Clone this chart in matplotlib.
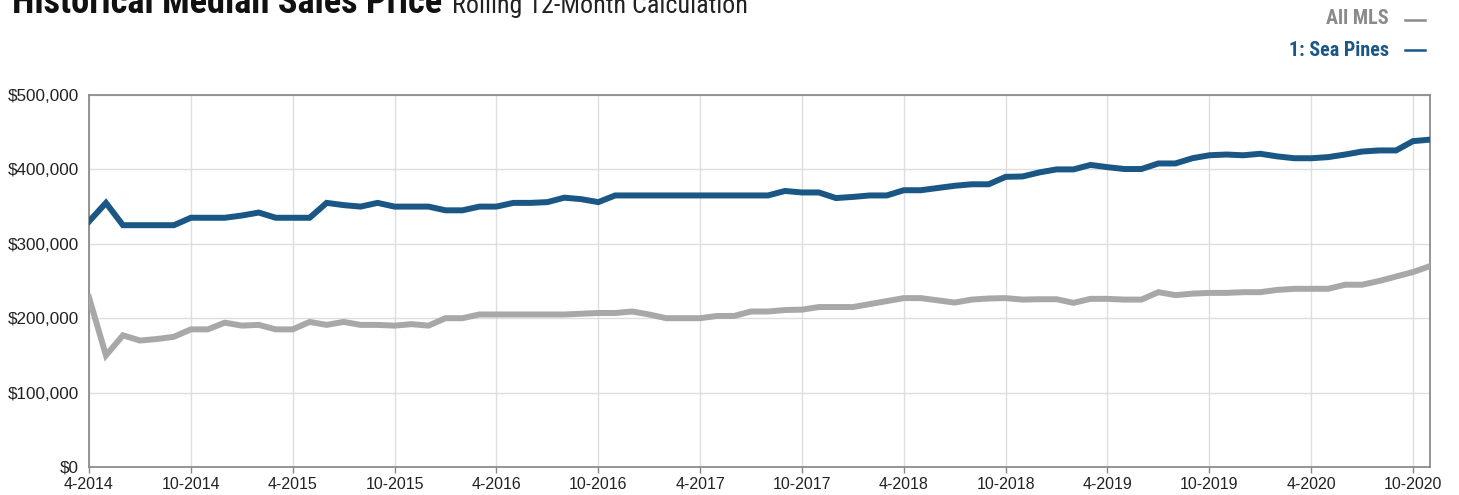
import matplotlib
matplotlib.use("Agg")
import matplotlib.pyplot as plt
from matplotlib.lines import Line2D
from matplotlib import font_manager

# ---- data ----
months = list(range(80))  # 4-2014 .. 11-2020
sea_pines = [330, 355, 325, 325, 325, 325, 335, 335, 335, 338,
             342, 335, 335, 335, 355, 352, 350, 355, 350, 350,
             350, 345, 345, 350, 350, 355, 355, 356, 362, 360,
             356, 365, 365, 365, 365, 365, 365, 365, 365, 365,
             365, 371, 369, 369, 361.5, 363, 365, 365, 372, 372,
             375, 378, 380, 380, 390, 390.5, 396, 400, 400, 406,
             403, 400.5, 400.5, 408, 408, 415, 419, 420, 419, 421,
             417.5, 415, 415, 416.5, 420, 424, 425.5, 425.5, 438, 440]
all_mls = [228, 150, 177, 170, 172, 175, 185, 185, 194, 190,
           191, 185, 185, 195, 191, 195, 191, 191, 190, 192,
           190, 200, 200, 205, 205, 205, 205, 205, 205, 206,
           207, 207, 209, 205, 200, 200, 200, 203, 203, 209,
           209, 211, 211.5, 215, 215, 215, 219, 223, 227, 227,
           224, 221, 225, 226.5, 227, 225, 225.5, 225.5, 220.6, 226,
           226, 225, 225, 235, 231, 233, 234, 234, 235, 235,
           238, 239.5, 239.5, 239.5, 245, 245, 250, 256, 262, 270]
x_tick_pos = [0, 6, 12, 18, 24, 30, 36, 42, 48, 54, 60, 66, 72, 78]
x_tick_labels = ["4-2014", "10-2014", "4-2015", "10-2015", "4-2016", "10-2016",
                 "4-2017", "10-2017", "4-2018", "10-2018", "4-2019", "10-2019",
                 "4-2020", "10-2020"]
y_ticks = [0, 100000, 200000, 300000, 400000, 500000]
y_tick_labels = ["$0", "$100,000", "$200,000", "$300,000", "$400,000", "$500,000"]

BLUE = "#1a5785"
GRAY = "#a8a8a8"
LEG_GRAY = "#8a8a8a"

names = {f.name for f in font_manager.fontManager.ttflist}
narrow = "Liberation Sans Narrow" if "Liberation Sans Narrow" in names else "Roboto Condensed" if "Roboto Condensed" in names else "DejaVu Sans"
plt.rcParams['font.family'] = ['Liberation Sans', 'DejaVu Sans']

fig = plt.figure(figsize=(14.59, 4.95), dpi=100)
ax = fig.add_axes([89/1459, 1 - 467/495, (1430 - 89)/1459, (467 - 95)/495])

ax.plot(months, [v * 1000 for v in all_mls], color=GRAY, lw=4.3, solid_joinstyle='miter', zorder=3)
ax.plot(months, [v * 1000 for v in sea_pines], color=BLUE, lw=4.3, solid_joinstyle='miter', zorder=4)

ax.set_xlim(0, 79)
ax.set_ylim(0, 500000)
ax.set_xticks(x_tick_pos)
ax.set_xticklabels(x_tick_labels, fontsize=11.5, color="#222222")
ax.set_yticks(y_ticks)
ax.set_yticklabels(y_tick_labels, fontsize=12.3, color="#222222")
ax.tick_params(axis='y', length=0, pad=7)
ax.tick_params(axis='x', length=4, width=1, color="#888888", pad=3)
ax.grid(True, color="#dedede", lw=1, zorder=0)
ax.set_axisbelow(True)
for s in ax.spines.values():
    s.set_color("#8c8c8c")
    s.set_linewidth(1.3)

# title
fig.text(12/1459, 1 - 13/495, "Historical Median Sales Price", fontsize=26.2, fontweight='bold',
         family=[narrow, 'DejaVu Sans'], color="#111111", ha='left', va='baseline')
fig.text(452/1459, 1 - 13/495, "Rolling 12-Month Calculation", fontsize=18.7,
         family=[narrow, 'DejaVu Sans'], color="#222222", ha='left', va='baseline')

# legend
fig.text(1389/1459, 1 - 19/495, "All MLS", fontsize=14.5, fontweight='bold',
         family=[narrow, 'DejaVu Sans'], color=LEG_GRAY, ha='right', va='center')
fig.text(1389/1459, 1 - 50/495, "1: Sea Pines", fontsize=14.5, fontweight='bold',
         family=[narrow, 'DejaVu Sans'], color=BLUE, ha='right', va='center')
fig.add_artist(Line2D([1405/1459, 1425/1459], [1 - 20/495, 1 - 20/495], color=LEG_GRAY, lw=1.8))
fig.add_artist(Line2D([1405/1459, 1425/1459], [1 - 50/495, 1 - 50/495], color=BLUE, lw=1.8))

fig.savefig("out.png", dpi=100)
